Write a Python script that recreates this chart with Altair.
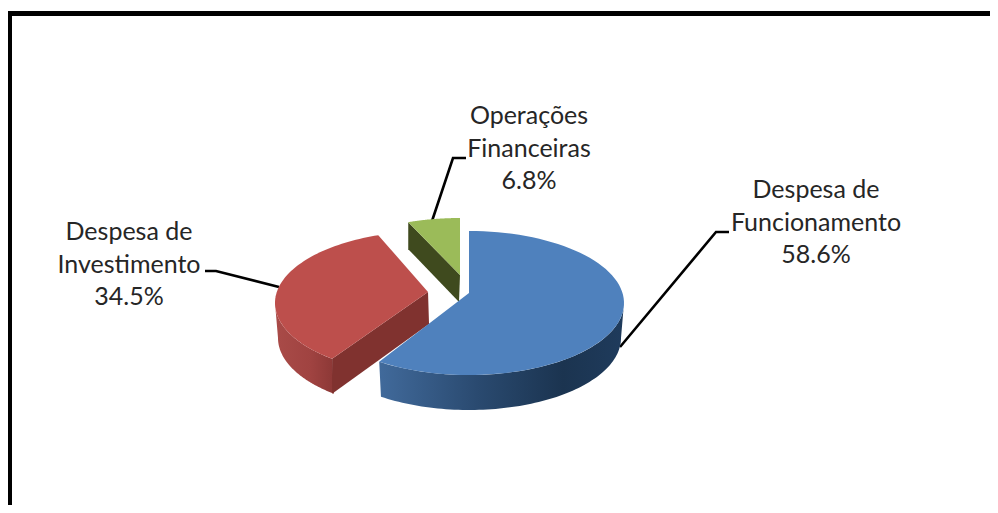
import math
import altair as alt
import pandas as pd

# --- chart values -------------------------------------------------------
categories = [["Despesa de", "Funcionamento"], ["Despesa de", "Investimento"], ["Operações", "Financeiras"]]
shares = [58.6, 34.5, 6.8]

# --- drawing style ------------------------------------------------------
RX, RY = 155.0, 72.0
RX_LOW = 152.0
BLUE_TOP, RED_TOP, GREEN_TOP = "#4f81bd", "#bd4f4c", "#9bbb59"
RED_CUT, GREEN_CUT = "#80322f", "#3f4a1e"
FONT = "Lato"
TEXT_COLOR = "#262626"
TEXT_SIZE = 25

XS = alt.Scale(domain=[8, 990], range=[0, 982], nice=False, zero=False)
YS = alt.Scale(domain=[8, 505], range=[0, 497], nice=False, zero=False)


def rim(cx, cy, t0, t1, rx=RX, ry=RY, n=80):
    pts = []
    for k in range(n + 1):
        t = math.radians(t0 + (t1 - t0) * k / n)
        pts.append((cx + rx * math.sin(t), cy - ry * math.cos(t)))
    return pts


def shape(points, fill):
    df = pd.DataFrame({"x": [p[0] for p in points], "y": [p[1] for p in points], "i": range(len(points))})
    return alt.Chart(df).mark_line(fill=fill, strokeWidth=0).encode(
        x=alt.X("x:Q", scale=XS, axis=None),
        y=alt.Y("y:Q", scale=YS, axis=None),
        order="i:Q",
    )


def stroke_path(points, width, join="miter"):
    df = pd.DataFrame({"x": [p[0] for p in points], "y": [p[1] for p in points], "i": range(len(points))})
    return alt.Chart(df).mark_line(color="black", strokeWidth=width, strokeJoin=join).encode(
        x=alt.X("x:Q", scale=XS, axis=None),
        y=alt.Y("y:Q", scale=YS, axis=None),
        order="i:Q",
    )


def grad(*stops):
    return alt.LinearGradient(
        gradient="linear", x1=0, x2=1, y1=0, y2=0,
        stops=[alt.GradientStop(offset=o, color=c) for o, c in stops],
    )


# slice sweeps come from the shares; a small per-slice perspective correction is added
ang = [s / sum(shares) * 360 for s in shares]
blue_end = ang[0] * 1.02
red_start = ang[0] + 8
red_end = ang[0] + ang[1] + 5
green_start = red_end

# blue slice
blue_c = (469, 303)
blue_apex = (469, 293)
blue_top = [blue_apex] + rim(*blue_c, 0, blue_end)
blue_wall = rim(*blue_c, 90, blue_end) + rim(blue_c[0], blue_c[1] + 35, blue_end, 90, rx=RX_LOW)

# red slice
red_c = (430, 303)
red_apex = (428, 292)
red_top = [red_apex] + rim(*red_c, red_start, red_end)
red_wall = rim(*red_c, 270, red_start) + rim(red_c[0], red_c[1] + 35, red_start, 270, rx=RX_LOW)
rf = rim(*red_c, red_start, red_start, n=1)[0]
red_cut = [red_apex, rf, (rf[0], rf[1] + 35), (red_apex[0] + 1, red_apex[1] + 32)]

# green slice
green_c = (460, 290)
green_apex = (460, 275)
green_top = [green_apex] + rim(*green_c, green_start, 360)
gl = rim(*green_c, green_start, green_start, n=1)[0]
green_cut = [gl, green_apex, (green_apex[0] - 1, green_apex[1] + 27), (gl[0], gl[1] + 27)]

layers = [
    stroke_path([(9.5, 505), (9.5, 13.5), (990, 13.5)], 5),
    stroke_path([(620, 347), (716, 232), (729, 232)], 2.6),
    stroke_path([(205, 271), (216, 271), (279, 287)], 2.6),
    stroke_path([(432, 221), (453, 158), (466, 158)], 2.6),
    shape(red_wall, grad((0, "#a94b48"), (0.6, "#a04341"), (1, "#8c3836"))),
    shape(red_cut, RED_CUT),
    shape(red_top, RED_TOP),
    shape(green_cut, GREEN_CUT),
    shape(green_top, GREEN_TOP),
    shape(blue_wall, grad((0, "#416a9b"), (0.4, "#2a4a70"), (0.75, "#1b3450"), (1, "#1f3b5c"))),
    shape(blue_top, BLUE_TOP),
]

# labels
label_pos = [(816, 190), (129, 232), (529, 116)]
LINE = 32.5
rows = []
for cat, val, (lx, ly) in zip(categories, shares, label_pos):
    for j, line in enumerate(cat + [f"{val:.1f}%"]):
        rows.append({"x": lx, "y": ly + j * LINE, "t": line})
labels = alt.Chart(pd.DataFrame(rows)).mark_text(
    font=FONT, fontSize=TEXT_SIZE, color=TEXT_COLOR, align="center", baseline="middle"
).encode(
    x=alt.X("x:Q", scale=XS, axis=None),
    y=alt.Y("y:Q", scale=YS, axis=None),
    text="t:N",
)
layers.append(labels)

chart = alt.layer(*layers).properties(
    width=982, height=497, padding=0, background="white",
    autosize=alt.AutoSizeParams(type="none"),
).configure_view(stroke=None)

chart.save("out.html", embed_options={"renderer": "svg", "actions": False})
